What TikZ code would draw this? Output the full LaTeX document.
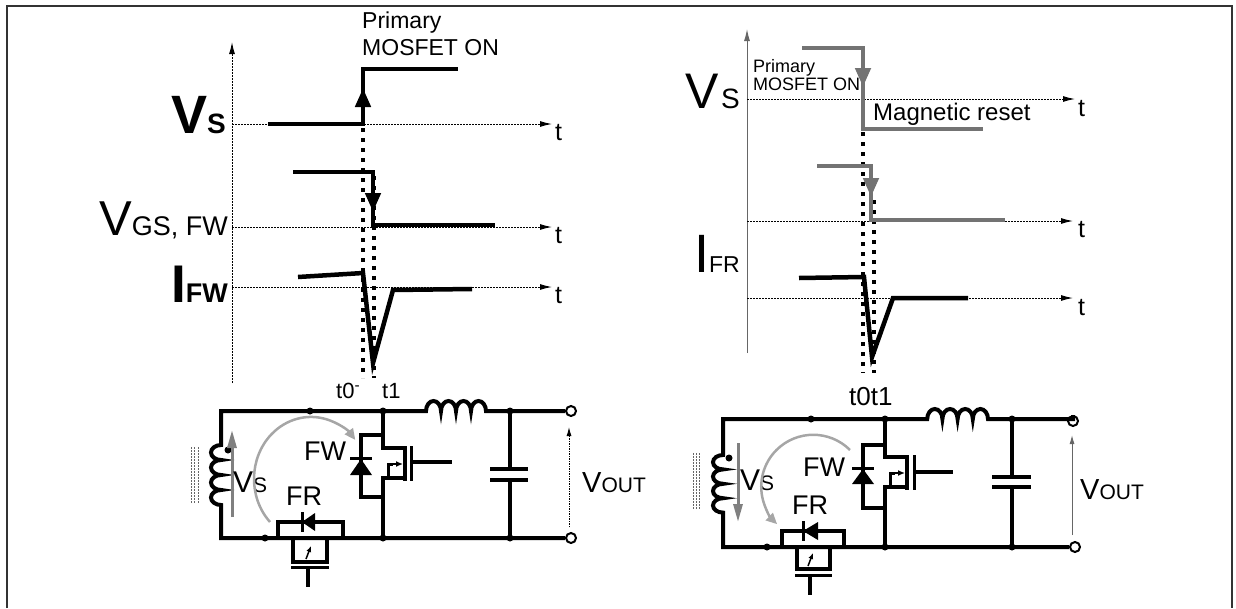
\documentclass[tikz,border=0pt]{standalone}
\usepackage{fontspec}
\setmainfont{Liberation Sans}
\usetikzlibrary{arrows.meta}
\newcommand{\fsz}[1]{\fontsize{#1}{#1}\selectfont}
\tikzstyle{wire} = [line width=4pt]
\tikzstyle{wave} = [line width=4.5pt]
\tikzstyle{gwave} = [line width=4.5pt, draw=black!55]
\tikzstyle{taxis} = [line width=1pt, dash pattern=on 2pt off 1pt, -{Latex[length=12pt,width=6pt]}]
\tikzstyle{gaxis} = [line width=1pt, draw=black!60, -{Latex[length=12pt,width=6pt]}]
\tikzstyle{tmark} = [line width=4pt, dash pattern=on 4pt off 6pt]
\tikzstyle{lbl} = [inner sep=0pt, anchor=base west]
\tikzstyle{rlbl} = [inner sep=0pt, anchor=base east]
\tikzstyle{dot} = [circle, fill, inner sep=0pt, minimum size=7pt]
\tikzstyle{term} = [circle, draw, line width=2pt, fill=white, inner sep=0pt, minimum size=10pt]
\tikzstyle{curr} = [line width=2.5pt, draw=black!35, -{Triangle[length=11pt,width=10pt]}]
\tikzstyle{varrow} = [line width=3pt, draw=black!50, -{Triangle[length=18pt,width=9pt]}]
\tikzstyle{core} = [line width=0.8pt, draw=black!60, dash pattern=on 2pt off 1pt]
\tikzstyle{tip} = [-{Triangle[length=19pt,width=15pt]}]

\begin{document}
\begin{tikzpicture}[x=1pt,y=-1pt]
  \useasboundingbox (0,0) rectangle (1236,608);
  \draw [line width=2.5pt, black!80] (7,608) -- (7,6) -- (1232,6) -- (1232,608);

  % left timing diagram
  \draw [taxis] (232,383) -- (232,42);
  \draw [taxis] (232,124) -- (552,124);
  \draw [taxis] (232,227) -- (552,227);
  \draw [taxis] (232,287) -- (552,287);
  \draw [tmark] (363,128) -- (363,378);
  \draw [tmark] (374,176) -- (374,378);
  \draw [wave] (268,124) -- (363,124) -- (363,69) -- (458,69);
  \draw [wave,tip] (363,124) -- (363,88);
  \draw [wave] (293,172) -- (373,172) -- (373,225) -- (495,225);
  \draw [wave,tip] (373,172) -- (373,212);
  \draw [wave] (298,277) -- (363,273) -- (373,363) -- (393,290) -- (472,289);
  \node [lbl] (lprim) at (362,28) {\fsz{23}Primary};
  \node [lbl] (lmos) at (362,55) {\fsz{23}MOSFET ON};
  \node [rlbl] (lvs) at (226,133) {\bfseries\fsz{54}V\fsz{28}S};
  \node [rlbl] (lvgs) at (228,235) {\fsz{49}V\fsz{27}GS, FW};
  \node [rlbl] (lifw) at (228,302) {\bfseries\fsz{53}I\fsz{27}FW};
  \node [lbl] (lt1) at (555,140) {\fsz{25}t};
  \node [lbl] (lt2) at (555,243) {\fsz{25}t};
  \node [lbl] (lt3) at (555,303) {\fsz{25}t};
  \node [lbl] (lt0) at (336,398) {\fsz{22}t0\textsuperscript{-}};
  \node [lbl] (ltone) at (382,398) {\fsz{22}t1};

  % right timing diagram
  \draw [gaxis] (747,353) -- (747,29);
  \draw [taxis] (747,99) -- (1075,99);
  \draw [taxis] (747,221) -- (1073,221);
  \draw [taxis] (747,298) -- (1073,298);
  \draw [tmark] (863,132) -- (863,373);
  \draw [tmark] (874,200) -- (874,373);
  \draw [gwave] (802,48) -- (863,48) -- (863,129) -- (983,129);
  \draw [gwave,tip] (863,48) -- (863,87);
  \draw [gwave] (817,166) -- (871,166) -- (871,220) -- (1005,220);
  \draw [gwave,tip] (871,166) -- (871,197);
  \draw [wave] (799,278) -- (864,277) -- (872,357) -- (893,298) -- (968,298);
  \node [lbl] (rprim) at (753,72) {\fsz{18}Primary};
  \node [lbl] (rmos) at (753,90) {\fsz{18}MOSFET ON};
  \node [lbl] (rmag) at (873,120) {\fsz{24}Magnetic reset};
  \node [rlbl] (rvs) at (740,108) {\fsz{50}V\hspace{2pt}\fsz{28}S};
  \node [rlbl] (rifr) at (740,272) {\fsz{54}I\fsz{23}FR};
  \node [lbl] (rt1) at (1078,116) {\fsz{25}t};
  \node [lbl] (rt2) at (1078,237) {\fsz{25}t};
  \node [lbl] (rt3) at (1078,315) {\fsz{25}t};
  \node [lbl] (rt0) at (849,405) {\fsz{26}t0t1};

  % left circuit
  \node [term] (lo1) at (571,411) {};
  \node [term] (lo2) at (571,538) {};
  \draw [wire] (lo1) -- (486,411) arc[start angle=0,end angle=-180,x radius=7.5,y radius=10]
    arc[start angle=0,end angle=-180,x radius=7.5,y radius=10]
    arc[start angle=0,end angle=-180,x radius=7.5,y radius=10]
    arc[start angle=0,end angle=-180,x radius=7.5,y radius=10] -- (221,411) -- (221,445)
    arc[start angle=270,end angle=90,x radius=10,y radius=7.5]
    arc[start angle=270,end angle=90,x radius=10,y radius=7.5]
    arc[start angle=270,end angle=90,x radius=10,y radius=7.5]
    arc[start angle=270,end angle=90,x radius=10,y radius=7.5] -- (221,538) -- (lo2);
  \foreach \x in {191,194.5,198} \draw [core] (\x,447) -- (\x,503);
  \fill (228,450) circle (3.5pt);
  \draw [varrow] (232,517) -- (232,430);
  \node [lbl] (lvsc) at (233,492) {\fsz{30}V\fsz{21}S};
  % FW switch
  \draw [wire] (383,411) -- (383,448) -- (405,448);
  \draw [wire] (405,478) -- (383,478) -- (383,538);
  \draw [wire] (383,435) -- (361,435) -- (361,497) -- (383,497);
  \fill (350,475) -- (372,475) -- (361,459) -- cycle;
  \draw [line width=3pt] (350,458) -- (372,458);
  \draw [line width=4pt] (405,446) -- (405,481);
  \draw [line width=3pt] (411,446) -- (411,481);
  \draw [wire] (411,462) -- (452,462);
  \draw [line width=3pt] (388,478) -- (388,464) -- (393,464);
  \draw [line width=1.5pt,-{Latex[length=7pt,width=6pt]}] (392,464) -- (403,464);
  \node (lfw) at (325,451) {\fsz{27}FW};
  % FR switch
  \draw [wire] (278,538) -- (278,522) -- (343,522) -- (343,538);
  \fill (315,513) -- (315,531) -- (302,522) -- cycle;
  \draw [line width=3pt] (302,512) -- (302,532);
  \draw [wire] (293,538) -- (293,562);
  \draw [wire] (327,538) -- (327,562);
  \draw [line width=4pt] (291,562) -- (329,562);
  \draw [line width=3pt] (291,567) -- (329,567);
  \draw [wire] (308,567) -- (308,587);
  \draw [line width=1.5pt,-{Latex[length=6pt,width=5pt]}] (306,559) -- (311,546);
  \node (lfr) at (304,496) {\fsz{27}FR};
  % output filter
  \draw [wire] (510,411) -- (510,469);
  \draw [wire] (510,480) -- (510,538);
  \draw [line width=4pt] (490,469) -- (528,469);
  \draw [line width=4pt] (490,480) -- (528,480);
  \foreach \x/\y in {310/411,383/411,510/411,265/538,383/538,510/538} \node [dot] at (\x,\y) {};
  \draw [curr] (270,522) arc[start angle=136,end angle=321,x radius=57,y radius=62];
  \draw [line width=1pt, dash pattern=on 1.5pt off 1pt, -{Latex[length=9pt,width=5pt]}] (569,527) -- (569,427);
  \node [lbl] (lvout) at (582,492) {\fsz{29}V\fsz{21}OUT};

  % right circuit
  \node [term] (ro1) at (1073,421) {};
  \node [term] (ro2) at (1075,547) {};
  \draw [wire] (ro1) -- (1073,419) -- (988,419) arc[start angle=0,end angle=-180,x radius=7.6,y radius=10]
    arc[start angle=0,end angle=-180,x radius=7.6,y radius=10]
    arc[start angle=0,end angle=-180,x radius=7.6,y radius=10]
    arc[start angle=0,end angle=-180,x radius=7.6,y radius=10] -- (723,419) -- (723,455)
    arc[start angle=270,end angle=90,x radius=10,y radius=7.2]
    arc[start angle=270,end angle=90,x radius=10,y radius=7.2]
    arc[start angle=270,end angle=90,x radius=10,y radius=7.2]
    arc[start angle=270,end angle=90,x radius=10,y radius=7.2] -- (723,547) -- (ro2);
  \foreach \x in {693,696,699} \draw [core] (\x,453) -- (\x,509);
  \fill (729,458) circle (3.5pt);
  \draw [varrow] (738,443) -- (738,522);
  \node [lbl] (rvsc) at (740,490) {\fsz{30}V\fsz{21}S};
  % FW switch
  \draw [wire] (885,419) -- (885,457) -- (907,457);
  \draw [wire] (907,487) -- (885,487) -- (885,547);
  \draw [wire] (885,445) -- (863,445) -- (863,508) -- (885,508);
  \fill (852,484) -- (874,484) -- (863,469) -- cycle;
  \draw [line width=3pt] (852,468) -- (874,468);
  \draw [line width=4pt] (907,455) -- (907,490);
  \draw [line width=3pt] (914,455) -- (914,490);
  \draw [wire] (914,472) -- (953,472);
  \draw [line width=3pt] (890,487) -- (890,473) -- (895,473);
  \draw [line width=1.5pt,-{Latex[length=7pt,width=6pt]}] (894,473) -- (905,473);
  \node (rfw) at (824,467) {\fsz{27}FW};
  % FR switch
  \draw [wire] (782,547) -- (782,531) -- (844,531) -- (844,547);
  \fill (818,522) -- (818,540) -- (803,531) -- cycle;
  \draw [line width=3pt] (803,521) -- (803,541);
  \draw [wire] (797,547) -- (797,569);
  \draw [wire] (830,547) -- (830,569);
  \draw [line width=4pt] (795,569) -- (832,569);
  \draw [line width=3pt] (795,575) -- (832,575);
  \draw [wire] (810,575) -- (810,595);
  \draw [line width=1.5pt,-{Latex[length=6pt,width=5pt]}] (808,566) -- (813,553);
  \node (rfr) at (810,505) {\fsz{27}FR};
  % output filter
  \draw [wire] (1012,419) -- (1012,477);
  \draw [wire] (1012,487) -- (1012,547);
  \draw [line width=4pt] (992,477) -- (1031,477);
  \draw [line width=4pt] (992,487) -- (1031,487);
  \foreach \x/\y in {811/419,885/419,1012/419,767/547,885/547,1012/547} \node [dot] at (\x,\y) {};
  \draw [curr] (850,450) arc[start angle=315,end angle=134,x radius=52,y radius=52];
  \draw [line width=1pt, draw=black!60, -{Latex[length=9pt,width=5pt]}] (1072,535) -- (1072,435);
  \node [lbl] (rvout) at (1080,499) {\fsz{29}V\fsz{21}OUT};
\end{tikzpicture}
\end{document}
